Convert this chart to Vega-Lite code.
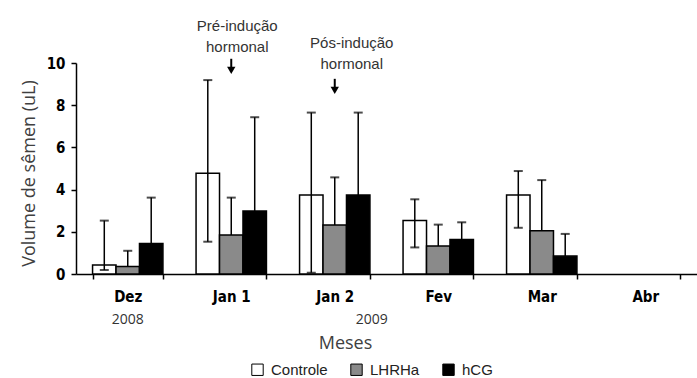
{
  "$schema": "https://vega.github.io/schema/vega-lite/v6.json",
  "width": 621,
  "height": 211,
  "autosize": {"type": "none"},
  "padding": {"left": 76, "top": 63, "right": 0, "bottom": 104},
  "background": "white",
  "config": {
    "view": {"stroke": null},
    "axis": {"grid": false, "domainColor": "black", "tickColor": "black", "domainWidth": 1.5, "tickWidth": 1.5, "tickSize": 5}
  },
  "datasets": {
    "bars": [
      {"month": "Dez", "group": "Controle", "mean": 0.43, "lo": 0.19, "hi": 2.53},
      {"month": "Dez", "group": "LHRHa", "mean": 0.35, "lo": 0.35, "hi": 1.1},
      {"month": "Dez", "group": "hCG", "mean": 1.44, "lo": 1.44, "hi": 3.62},
      {"month": "Jan 1", "group": "Controle", "mean": 4.77, "lo": 1.53, "hi": 9.19},
      {"month": "Jan 1", "group": "LHRHa", "mean": 1.85, "lo": 1.85, "hi": 3.62},
      {"month": "Jan 1", "group": "hCG", "mean": 2.99, "lo": 2.99, "hi": 7.43},
      {"month": "Jan 2", "group": "Controle", "mean": 3.74, "lo": 0.06, "hi": 7.65},
      {"month": "Jan 2", "group": "LHRHa", "mean": 2.32, "lo": 2.32, "hi": 4.58},
      {"month": "Jan 2", "group": "hCG", "mean": 3.74, "lo": 3.74, "hi": 7.65},
      {"month": "Fev", "group": "Controle", "mean": 2.54, "lo": 1.26, "hi": 3.54},
      {"month": "Fev", "group": "LHRHa", "mean": 1.33, "lo": 1.33, "hi": 2.34},
      {"month": "Fev", "group": "hCG", "mean": 1.63, "lo": 1.63, "hi": 2.45},
      {"month": "Mar", "group": "Controle", "mean": 3.74, "lo": 2.19, "hi": 4.88},
      {"month": "Mar", "group": "LHRHa", "mean": 2.05, "lo": 2.05, "hi": 4.45},
      {"month": "Mar", "group": "hCG", "mean": 0.85, "lo": 0.85, "hi": 1.9}
    ],
    "notes": [
      {"month": "Jan 1", "y": 11.77, "label": ["Pré-indução", "hormonal"]},
      {"month": "Jan 2", "y": 10.94, "label": ["Pós-indução", "hormonal"]}
    ],
    "arrows": [
      {"month": "Jan 1", "top": 10.2, "head": 9.65},
      {"month": "Jan 2", "top": 9.25, "head": 8.7}
    ],
    "years": [
      {"month": "Dez", "y": -2.2, "label": "2008"},
      {"month": "Jan 2", "y": -2.2, "label": "2009"}
    ]
  },
  "encoding": {
    "x": {
      "field": "month", "type": "nominal",
      "scale": {"domain": ["Dez", "Jan 1", "Jan 2", "Fev", "Mar", "Abr"], "paddingInner": 0.32, "paddingOuter": 0.16},
      "sort": null,
      "axis": {
        "title": "Meses", "labelAngle": 0, "tickBand": "extent",
        "labelFont": "Liberation Sans Narrow, DejaVu Sans Condensed, sans-serif", "labelFontWeight": "bold", "labelFontSize": 15, "labelColor": "black",
        "labelPadding": 10,
        "titleFont": "Open Sans", "titleFontWeight": "normal", "titleFontSize": 18, "titleColor": "#404040", "titlePadding": 30, "titleX": 269
      }
    }
  },
  "layer": [
    {
      "data": {"name": "bars"},
      "mark": {"type": "bar", "stroke": "black", "strokeWidth": 1.5},
      "encoding": {
        "xOffset": {"field": "group", "type": "nominal", "scale": {"domain": ["Controle", "LHRHa", "hCG"], "paddingInner": 0, "paddingOuter": 0}},
        "y": {"field": "mean", "type": "quantitative", "scale": {"domain": [0, 10]},
          "axis": {"title": "Volume de sêmen (uL)", "values": [0, 2, 4, 6, 8, 10],
            "labelFont": "DejaVu Sans Condensed, DejaVu Sans, sans-serif", "labelFontWeight": "bold", "labelFontSize": 15, "labelColor": "black", "labelPadding": 6,
            "titleFont": "Open Sans", "titleFontWeight": "normal", "titleFontSize": 18, "titleColor": "#404040", "titlePadding": 8, "titleY": 110}},
        "fill": {"field": "group", "type": "nominal",
          "scale": {"domain": ["Controle", "LHRHa", "hCG"], "range": ["white", "#8a8a8a", "black"]},
          "legend": {"title": null, "orient": "none", "direction": "horizontal", "legendX": 174, "legendY": 299,
            "symbolType": "square", "symbolSize": 130, "symbolStrokeColor": "black", "symbolStrokeWidth": 1,
            "labelFont": "Liberation Sans", "labelFontSize": 15, "labelColor": "#222", "labelOffset": 6, "columnPadding": 20}}
      }
    },
    {
      "data": {"name": "bars"},
      "mark": {"type": "rule", "color": "black", "strokeWidth": 1.5},
      "encoding": {
        "xOffset": {"field": "group", "type": "nominal"},
        "y": {"field": "lo", "type": "quantitative"},
        "y2": {"field": "hi"}
      }
    },
    {
      "data": {"name": "bars"},
      "mark": {"type": "tick", "color": "black", "size": 9, "thickness": 2},
      "encoding": {
        "xOffset": {"field": "group", "type": "nominal"},
        "y": {"field": "hi", "type": "quantitative"}
      }
    },
    {
      "data": {"name": "bars"},
      "transform": [{"filter": "datum.group === 'Controle'"}],
      "mark": {"type": "tick", "color": "black", "size": 9, "thickness": 2},
      "encoding": {
        "xOffset": {"field": "group", "type": "nominal"},
        "y": {"field": "lo", "type": "quantitative"}
      }
    },
    {
      "data": {"name": "notes"},
      "transform": [{"filter": "datum.month === 'Jan 1'"}],
      "mark": {"type": "text", "font": "Liberation Sans", "fontSize": 15, "color": "#333", "lineHeight": 21, "baseline": "middle", "clip": false, "dx": 6},
      "encoding": {
        "y": {"field": "y", "type": "quantitative"},
        "text": {"field": "label"}
      }
    },
    {
      "data": {"name": "notes"},
      "transform": [{"filter": "datum.month === 'Jan 2'"}],
      "mark": {"type": "text", "font": "Liberation Sans", "fontSize": 15, "color": "#333", "lineHeight": 21, "baseline": "middle", "clip": false, "dx": 17},
      "encoding": {
        "y": {"field": "y", "type": "quantitative"},
        "text": {"field": "label"}
      }
    },
    {
      "data": {"name": "arrows"},
      "mark": {"type": "rule", "color": "black", "strokeWidth": 2},
      "encoding": {
        "y": {"field": "top", "type": "quantitative"},
        "y2": {"field": "head"}
      }
    },
    {
      "data": {"name": "arrows"},
      "mark": {"type": "point", "shape": "triangle-down", "filled": true, "color": "black", "size": 70, "opacity": 1},
      "encoding": {
        "y": {"field": "head", "type": "quantitative"}
      }
    },
    {
      "data": {"name": "years"},
      "transform": [{"filter": "datum.month === 'Dez'"}],
      "mark": {"type": "text", "font": "Open Sans", "fontSize": 14, "color": "#333", "baseline": "middle", "clip": false},
      "encoding": {
        "y": {"field": "y", "type": "quantitative"},
        "text": {"field": "label"}
      }
    },
    {
      "data": {"name": "years"},
      "transform": [{"filter": "datum.month === 'Jan 2'"}],
      "mark": {"type": "text", "font": "Open Sans", "fontSize": 14, "color": "#333", "baseline": "middle", "clip": false, "dx": 37},
      "encoding": {
        "y": {"field": "y", "type": "quantitative"},
        "text": {"field": "label"}
      }
    }
  ]
}
